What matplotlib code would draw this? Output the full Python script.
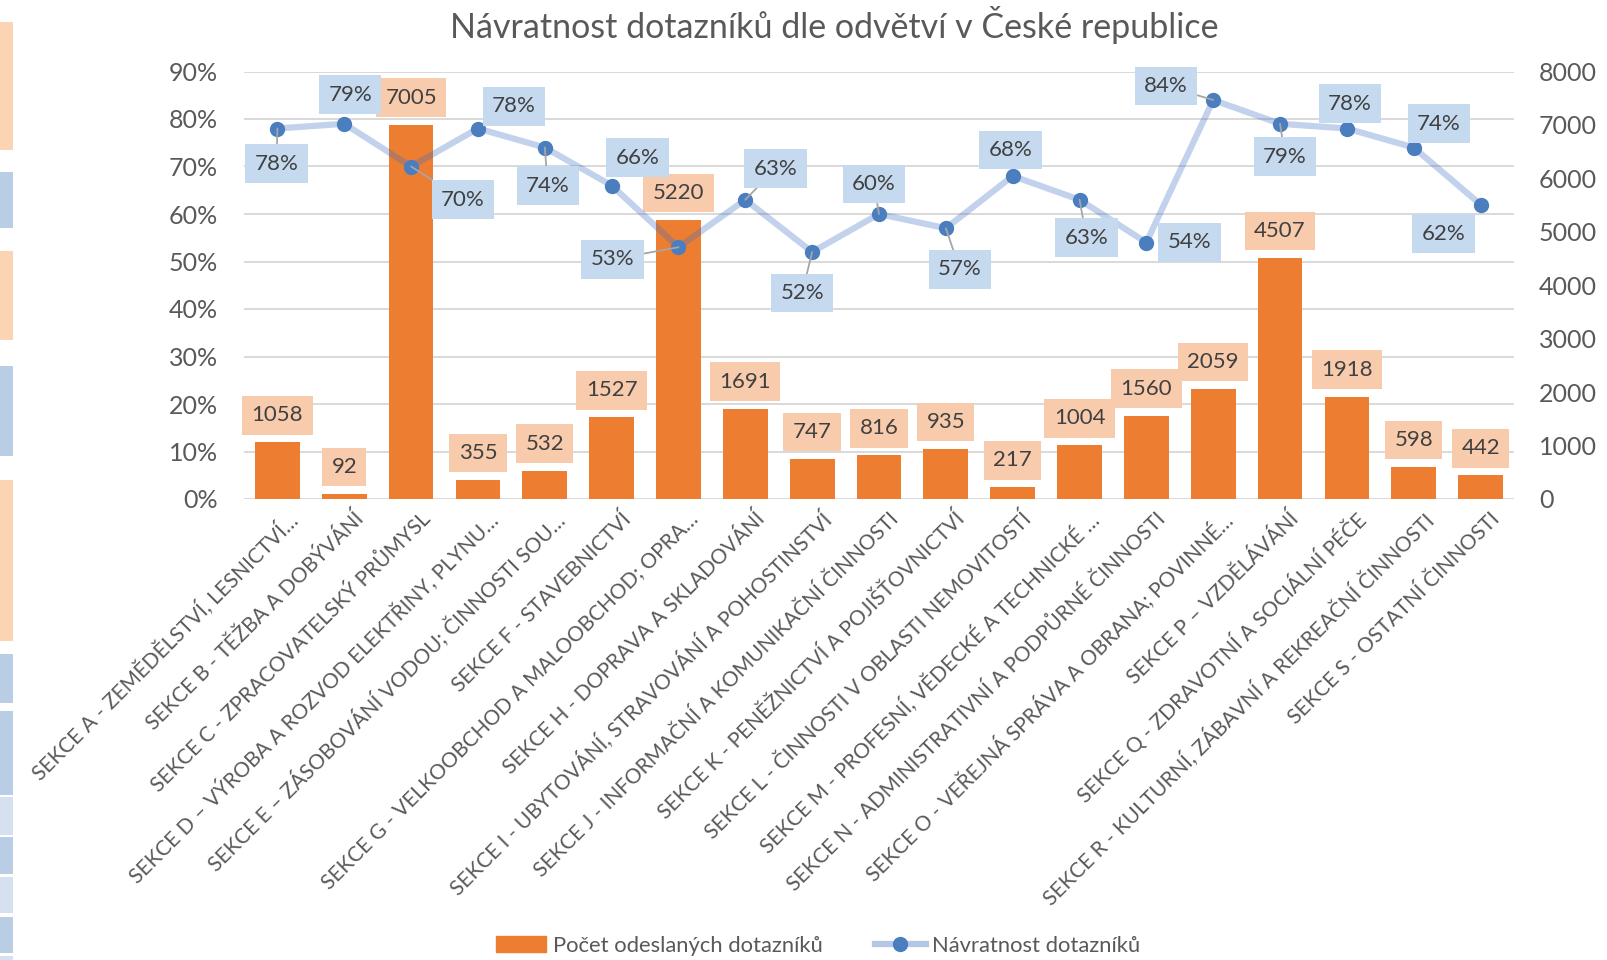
import numpy as np
import matplotlib.pyplot as plt
from matplotlib.patches import Rectangle
from matplotlib.lines import Line2D
from matplotlib.ticker import PercentFormatter

plt.rcParams['font.family'] = ['Lato', 'DejaVu Sans']

categories = [
    "SEKCE A - ZEMĚDĚLSTVÍ, LESNICTVÍ…",
    "SEKCE B - TĚŽBA A DOBÝVÁNÍ",
    "SEKCE C - ZPRACOVATELSKÝ PRŮMYSL",
    "SEKCE D – VÝROBA A ROZVOD ELEKTŘINY, PLYNU…",
    "SEKCE E – ZÁSOBOVÁNÍ VODOU; ČINNOSTI SOU…",
    "SEKCE F - STAVEBNICTVÍ",
    "SEKCE G - VELKOOBCHOD A MALOOBCHOD; OPRA…",
    "SEKCE H - DOPRAVA A SKLADOVÁNÍ",
    "SEKCE I - UBYTOVÁNÍ, STRAVOVÁNÍ A POHOSTINSTVÍ",
    "SEKCE J - INFORMAČNÍ A KOMUNIKAČNÍ ČINNOSTI",
    "SEKCE K - PENĚŽNICTVÍ A POJIŠŤOVNICTVÍ",
    "SEKCE L - ČINNOSTI V OBLASTI NEMOVITOSTÍ",
    "SEKCE M - PROFESNÍ, VĚDECKÉ A TECHNICKÉ …",
    "SEKCE N - ADMINISTRATIVNÍ A PODPŮRNÉ ČINNOSTI",
    "SEKCE O - VEŘEJNÁ SPRÁVA A OBRANA; POVINNÉ…",
    "SEKCE P – VZDĚLÁVÁNÍ",
    "SEKCE Q - ZDRAVOTNÍ A SOCIÁLNÍ PÉČE",
    "SEKCE R - KULTURNÍ, ZÁBAVNÍ A REKREAČNÍ ČINNOSTI",
    "SEKCE S - OSTATNÍ ČINNOSTI",
]
sent = [1058, 92, 7005, 355, 532, 1527, 5220, 1691, 747, 816,
        935, 217, 1004, 1560, 2059, 4507, 1918, 598, 442]
rate = [78, 79, 70, 78, 74, 66, 53, 63, 52, 60,
        57, 68, 63, 54, 84, 79, 78, 74, 62]

# label placement for the line labels (pixels, right / down) and leader lines
rate_off = [(-1, 35), (6, -29), (52, 33), (36, -22), (3, 38), (26, -28), (-66, 12),
            (30, -31), (-10, 41), (-5, -30), (14, 41), (-2, -26), (7, 38), (43, 0),
            (-47, -14), (5, 33), (3, -25), (25, -24), (-37, 29)]
leader = [1, 0, 1, 0, 1, 0, 1, 1, 1, 1, 1, 0, 1, 0, 1, 1, 0, 0, 0]

txt = '#595959'
lab = '#404040'

fig = plt.figure(figsize=(16.08, 9.6), dpi=100)
W, H = 1608, 960
ax = fig.add_axes([244 / W, 1 - 499 / H, (1514 - 244) / W, (499 - 71.5) / H])
ax2 = ax.twinx()
ax3 = ax.twinx()

x = np.arange(len(categories))

# left axis, gridlines
ax.set_xlim(-0.5, len(categories) - 0.5)
ax.set_ylim(0, 0.9)
ax.set_yticks(np.arange(0, 0.91, 0.1))
ax.yaxis.set_major_formatter(PercentFormatter(1.0, decimals=0))
ax.grid(axis='y', color='#D9D9D9', lw=1.4)
ax.set_axisbelow(True)
for s in ax.spines.values():
    s.set_visible(False)
ax.tick_params(axis='y', length=0, pad=19, labelsize=18, labelcolor=txt)
ax.set_xticks(x)
ax.set_xticklabels([])
ax.tick_params(axis='x', length=0)

# bars, right axis
ax2.bar(x, sent, width=0.67, color='#ED7D31', zorder=2)
ax2.set_ylim(0, 8000)
ax2.set_yticks(np.arange(0, 8001, 1000))
for s in ax2.spines.values():
    s.set_visible(False)
ax2.tick_params(axis='y', length=0, pad=18, labelsize=18, labelcolor=txt)
for xi, v in zip(x, sent):
    ax2.annotate(str(v), (xi, v), xytext=(0, 27), textcoords='offset pixels',
                 ha='center', va='center', fontsize=16, color=lab,
                 bbox=dict(boxstyle='square,pad=0.42', fc='#F8CBAD', ec='none'))

# line, on top
r = np.array(rate) / 100
ax3.set_ylim(0, 0.9)
ax3.set_yticks([])
for s in ax3.spines.values():
    s.set_visible(False)
ax3.plot(x, r, color='#4472C4', alpha=0.32, lw=4.5, solid_capstyle='round', zorder=3)
ax3.plot(x, r, 'o', color='#4A7EBF', ms=10, zorder=4)
for xi, v, (dx, dy), ld in zip(x, r, rate_off, leader):
    arrow = dict(arrowstyle='-', color='#A6A6A6', lw=1.3, shrinkA=0, shrinkB=0) if ld else None
    ax3.annotate(f"{v:.0%}", (xi, v), xytext=(dx, -dy), textcoords='offset pixels',
                 ha='center', va='center', fontsize=16, color=lab, zorder=5,
                 arrowprops=arrow,
                 bbox=dict(boxstyle='square,pad=0.42', fc='#C5D9EF', ec='none'))

# rotated category labels
for xi, c in zip(x, categories):
    ax.annotate(c, (xi, 0), xycoords=('data', 'axes fraction'), xytext=(16, -17),
                textcoords='offset pixels', rotation=45, rotation_mode='anchor',
                ha='right', va='center', fontsize=15, color=txt)

fig.text(834 / W, 1 - 25 / H, "Návratnost dotazníků dle odvětví v České republice",
         ha='center', va='center', fontsize=24.5, color=txt)

handles = [Rectangle((0, 0), 1, 1, color='#ED7D31'),
           Line2D([], [], color='#B4C7E7', lw=4.5, marker='o', ms=10,
                  markerfacecolor='#4A7EBF', markeredgecolor='#4A7EBF')]
fig.legend(handles, ["Počet odeslaných dotazníků", "Návratnost dotazníků"],
           loc='center', bbox_to_anchor=(818 / W, 1 - 946 / H), ncol=2, frameon=False,
           fontsize=15.8, labelcolor=txt, handlelength=2.3, handleheight=0.75,
           handletextpad=0.3, columnspacing=2.4)

# coloured strips on the left edge
strips = [(22, 150, '#FBD4B4'), (172, 228, '#B9CDE5'), (251, 340, '#FBD4B4'),
          (366, 456, '#B9CDE5'), (480, 641, '#FBD4B4'), (654, 703, '#B9CDE5'),
          (711, 795, '#B9CDE5'), (797, 835, '#D5E0F0'), (837, 874, '#B9CDE5'),
          (877, 913, '#D5E0F0'), (917, 953, '#B9CDE5'), (956, 960, '#D5E0F0')]
for y0, y1, col in strips:
    fig.patches.append(Rectangle((0, 1 - y1 / H), 13 / W, (y1 - y0) / H,
                                 transform=fig.transFigure, fc=col, ec='none'))

fig.savefig('out.png', dpi=100)
